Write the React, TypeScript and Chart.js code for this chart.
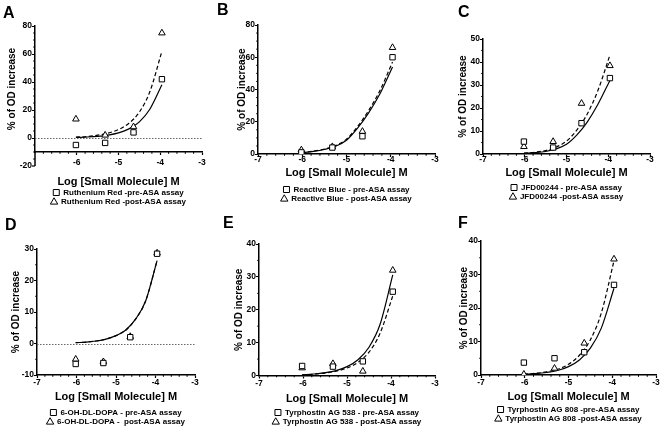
import React, { useEffect, useRef } from 'react';
import { Chart, registerables } from 'chart.js';

Chart.register(...registerables);
Chart.defaults.font.family = '"Liberation Sans", Arial, sans-serif';

// ---- data ----
const conc = [-6.02, -5.32, -4.64, -3.96];
const curveX = [-6.02, -5.75, -5.5, -5.25, -5.0, -4.75, -4.5, -4.25, -3.96];

const xTicksFull = [-7, -6, -5, -4, -3];
const xTicksA = [-6, -5, -4, -3];

const aYTicks = [0, 20, 40, 60, 80];
const aYExtraTick = -20;
const bYTicks = [0, 20, 40, 60, 80];
const cYTicks = [0, 10, 20, 30, 40, 50];
const dYTicks = [-10, 0, 10, 20, 30];
const eYTicks = [0, 10, 20, 30, 40];
const fYTicks = [0, 10, 20, 30, 40];

const aPre = [-5, -3.5, 4, 42];
const aPost = [13.5, 2, 8, 75];
const aFitSolid = [0.4, 0.7, 1.2, 2.1, 3.7, 6.5, 11.5, 20.5, 38];
const aFitDashed = [0.6, 1.1, 2.0, 3.5, 6.0, 10.5, 18.5, 33, 62];

const bPre = [1.0, 4.0, 11, 60];
const bPost = [2.5, 4.5, 14, 66];
const bFitSolid = [0.8, 1.6, 2.8, 4.8, 8.5, 16, 25.5, 37, 54];
const bFitDashed = [0.9, 1.8, 3.1, 5.2, 9.2, 17, 27, 39, 57];

const cPre = [5.4, 2.8, 13.4, 33];
const cPost = [3.2, 5.4, 22, 38.4];
const cFitSolid = [0.3, 0.6, 1.1, 2.2, 4.2, 8.3, 14, 21.5, 32];
const cFitDashed = [0.4, 0.8, 1.5, 3.0, 5.6, 10.5, 17.5, 27.5, 43];

const dPre = [-6.5, -6.2, 2, 28.5];
const dPost = [-5, -5.8, 2.2, 28.7];
const dFitSolid = [0.25, 0.45, 0.8, 1.4, 2.5, 4.3, 7.8, 13.5, 26.3];
const dFitDashed = [0.25, 0.45, 0.8, 1.4, 2.5, 4.3, 7.8, 13.5, 26.3];

const ePre = [2.9, 2.7, 4.3, 25.5];
const ePost = [2.3, 3.6, 1.3, 32];
const eFitSolid = [0.2, 0.45, 0.85, 1.5, 2.7, 4.8, 8.6, 15.5, 30.6];
const eFitDashed = [0.2, 0.4, 0.75, 1.3, 2.3, 4.0, 7.1, 12.8, 24.2];

const fPre = [3.7, 5, 6.8, 26.9];
const fPost = [0.2, 2, 9.5, 34.6];
const fFitSolid = [0.2, 0.4, 0.75, 1.35, 2.5, 4.5, 8.0, 14, 25.9];
const fFitDashed = [0.25, 0.5, 0.95, 1.7, 3.2, 5.9, 10.5, 18.5, 34.1];

type Panel = {
  letter: string;
  preLabel: string;
  postLabel: string;
  pre: number[];
  post: number[];
  fitSolid: number[];
  fitDashed: number[];
  yMin: number;
  yMax: number;
  yTicks: number[];
  yExt: number | null;
  xTicks: number[];
  zeroLine: boolean;
  // layout
  cx: number; cy: number; w: number; h: number;
  padTop: number; padRight: number;
  yAxisW: number; xAxisH: number;
  yTitlePad: number; xTickPad: number; xTitlePadB: number;
  letterX: number; letterBase: number;
};

const panels: Panel[] = [
  {
    letter: 'A', preLabel: 'Ruthenium Red -pre-ASA assay', postLabel: 'Ruthenium Red -post-ASA assay',
    pre: aPre, post: aPost, fitSolid: aFitSolid, fitDashed: aFitDashed,
    yMin: -10, yMax: 80, yTicks: aYTicks, yExt: aYExtraTick, xTicks: xTicksA, zeroLine: true,
    cx: 0, cy: 0, w: 220, h: 216, padTop: 26, padRight: 18, yAxisW: 35, xAxisH: 35,
    yTitlePad: 7, xTickPad: 3.75, xTitlePadB: 0, letterX: 3, letterBase: 18,
  },
  {
    letter: 'B', preLabel: 'Reactive Blue - pre-ASA assay', postLabel: 'Reactive Blue - post-ASA assay',
    pre: bPre, post: bPost, fitSolid: bFitSolid, fitDashed: bFitDashed,
    yMin: 0, yMax: 80, yTicks: bYTicks, yExt: null, xTicks: xTicksFull, zeroLine: false,
    cx: 220, cy: 0, w: 220, h: 213, padTop: 25, padRight: 3, yAxisW: 38, xAxisH: 30,
    yTitlePad: 17, xTickPad: -1.25, xTitlePadB: 5.5, letterX: 217, letterBase: 15,
  },
  {
    letter: 'C', preLabel: 'JFD00244 - pre-ASA assay', postLabel: 'JFD00244 -post-ASA assay',
    pre: cPre, post: cPost, fitSolid: cFitSolid, fitDashed: cFitDashed,
    yMin: 0, yMax: 50, yTicks: cYTicks, yExt: null, xTicks: xTicksFull, zeroLine: false,
    cx: 440, cy: 0, w: 222, h: 211, padTop: 39, padRight: 12, yAxisW: 43, xAxisH: 28,
    yTitlePad: 18, xTickPad: -1.25, xTitlePadB: 3.2, letterX: 458, letterBase: 17,
  },
  {
    letter: 'D', preLabel: '6-OH-DL-DOPA - pre-ASA assay', postLabel: '6-OH-DL-DOPA -  post-ASA assay',
    pre: dPre, post: dPost, fitSolid: dFitSolid, fitDashed: dFitDashed,
    yMin: -10, yMax: 30, yTicks: dYTicks, yExt: null, xTicks: xTicksFull, zeroLine: true,
    cx: 0, cy: 210, w: 220, h: 226, padTop: 39, padRight: 25, yAxisW: 37, xAxisH: 32,
    yTitlePad: 11, xTickPad: 0.75, xTitlePadB: 4.8, letterX: 5, letterBase: 230,
  },
  {
    letter: 'E', preLabel: 'Tyrphostin AG 538 - pre-ASA assay', postLabel: 'Tyrphostin AG 538 - post-ASA assay',
    pre: ePre, post: ePost, fitSolid: eFitSolid, fitDashed: eFitDashed,
    yMin: 0, yMax: 40, yTicks: eYTicks, yExt: null, xTicks: xTicksFull, zeroLine: false,
    cx: 220, cy: 210, w: 220, h: 226, padTop: 34, padRight: 3, yAxisW: 39, xAxisH: 31.5,
    yTitlePad: 14, xTickPad: 0.75, xTitlePadB: 2.7, letterX: 223, letterBase: 228,
  },
  {
    letter: 'F', preLabel: 'Tyrphostin AG 808 -pre-ASA assay', postLabel: 'Tyrphostin AG 808 -post-ASA assay',
    pre: fPre, post: fPost, fitSolid: fFitSolid, fitDashed: fFitDashed,
    yMin: 0, yMax: 40, yTicks: fYTicks, yExt: null, xTicks: xTicksFull, zeroLine: false,
    cx: 440, cy: 210, w: 222, h: 223, padTop: 31, padRight: 6, yAxisW: 41, xAxisH: 29,
    yTitlePad: 19, xTickPad: 0.75, xTitlePadB: 1.8, letterX: 458, letterBase: 228,
  },
];

const TICK_SIZE = 8.5;
const tickFont = { size: TICK_SIZE, weight: 'bold' as const, lineHeight: 1 };

const prismAxes = {
  id: 'prismAxes',
  beforeDatasetsDraw(chart: any, _args: any, opts: any) {
    const { ctx, chartArea } = chart;
    const y = chart.scales.y;
    if (opts.zeroLine) {
      const py = Math.round(y.getPixelForValue(0)) + 0.5;
      ctx.save();
      ctx.strokeStyle = '#666';
      ctx.lineWidth = 1;
      ctx.setLineDash([1.5, 1.5]);
      ctx.beginPath();
      ctx.moveTo(chartArea.left, py);
      ctx.lineTo(chartArea.right, py);
      ctx.stroke();
      ctx.restore();
    }
  },
  afterDraw(chart: any, _args: any, opts: any) {
    const { ctx, chartArea } = chart;
    const x = chart.scales.x;
    const y = chart.scales.y;
    ctx.save();
    ctx.strokeStyle = '#000';
    ctx.fillStyle = '#000';
    // extension of the y axis below the x axis (Prism style)
    if (opts.yExt !== null) {
      const pyExt = y.getPixelForValue(opts.yExt);
      ctx.lineWidth = 1.5;
      ctx.beginPath();
      ctx.moveTo(chartArea.left, chartArea.bottom);
      ctx.lineTo(chartArea.left, pyExt);
      ctx.stroke();
      ctx.lineWidth = 1.2;
      ctx.beginPath();
      ctx.moveTo(chartArea.left, pyExt);
      ctx.lineTo(chartArea.left - 3, pyExt);
      ctx.stroke();
      ctx.lineWidth = 1;
      const pm = y.getPixelForValue(opts.yExt + 5);
      ctx.beginPath();
      ctx.moveTo(chartArea.left, pm);
      ctx.lineTo(chartArea.left - 1.8, pm);
      ctx.stroke();
      ctx.font = `bold ${TICK_SIZE}px "Liberation Sans", Arial, sans-serif`;
      ctx.textAlign = 'right';
      ctx.textBaseline = 'middle';
      ctx.fillText(String(opts.yExt), chartArea.left - 3, pyExt);
    }
    const axisY = chartArea.bottom;
    // minor x ticks
    ctx.lineWidth = 1;
    for (let i = 1; i < 20; i++) {
      if (i % 5 === 0) continue;
      const px = x.getPixelForValue(x.min + i * 0.2);
      ctx.beginPath();
      ctx.moveTo(px, axisY);
      ctx.lineTo(px, axisY + 1.8);
      ctx.stroke();
    }
    // minor y ticks
    const step = opts.yTicks[1] - opts.yTicks[0];
    for (let v = y.min; v <= y.max + 1e-9; v += 5) {
      if (Math.abs(v % step) < 1e-9) continue;
      const py = y.getPixelForValue(v);
      ctx.beginPath();
      ctx.moveTo(chartArea.left, py);
      ctx.lineTo(chartArea.left - 1.8, py);
      ctx.stroke();
    }
    ctx.restore();
  },
};

function makeConfig(p: Panel): any {
  return {
    type: 'scatter',
    data: {
      datasets: [
        {
          label: p.preLabel,
          data: conc.map((x, i) => ({ x, y: p.pre[i] })),
          pointStyle: 'rect', pointRadius: 3.8, borderWidth: 1,
          borderColor: '#000', backgroundColor: '#fff', order: 0,
        },
        {
          label: p.postLabel,
          data: conc.map((x, i) => ({ x, y: p.post[i] })),
          pointStyle: 'triangle', pointRadius: 3.8, borderWidth: 1,
          borderColor: '#000', backgroundColor: '#fff', order: 0,
        },
        {
          type: 'line', label: '',
          data: curveX.map((x, i) => ({ x, y: p.fitSolid[i] })),
          borderColor: '#000', borderWidth: 1.2, pointRadius: 0, fill: false,
          cubicInterpolationMode: 'monotone', order: 1,
        },
        {
          type: 'line', label: '',
          data: curveX.map((x, i) => ({ x, y: p.fitDashed[i] })),
          borderColor: '#000', borderWidth: 1.2, pointRadius: 0, fill: false,
          borderDash: [4, 2.5], cubicInterpolationMode: 'monotone', order: 1,
        },
      ],
    },
    options: {
      animation: false,
      responsive: false,
      layout: { padding: { top: p.padTop, right: p.padRight, left: 0, bottom: 0 } },
      plugins: {
        tooltip: { enabled: false },
        legend: {
          display: true, position: 'bottom', fullSize: false, align: 'center',
          labels: {
            usePointStyle: true, boxHeight: 6, boxWidth: 6, padding: 1.5,
            font: { size: 8, weight: 'bold' }, color: '#000',
            filter: (item: any) => item.text !== '',
          },
        },
        prismAxes: { zeroLine: p.zeroLine, yExt: p.yExt, yTicks: p.yTicks },
      },
      scales: {
        x: {
          type: 'linear', min: -7, max: -3, position: 'bottom',
          afterBuildTicks: (s: any) => { s.ticks = p.xTicks.map((v) => ({ value: v })); },
          afterFit: (s: any) => { s.height = p.xAxisH; s.paddingLeft = 0; s.paddingRight = 0; },
          ticks: {
            font: tickFont, color: '#000', padding: p.xTickPad, maxRotation: 0, autoSkip: false,
            callback: (v: any) => String(v),
          },
          grid: { drawOnChartArea: false, tickLength: 3, tickColor: '#000', tickWidth: 1.2 },
          border: { color: '#000', width: 1.5 },
          title: {
            display: true, text: 'Log [Small Molecule] M', color: '#000',
            font: { size: 11, weight: 'bold', lineHeight: 1 },
            padding: { top: 0, bottom: p.xTitlePadB },
          },
        },
        y: {
          type: 'linear', min: p.yMin, max: p.yMax,
          afterBuildTicks: (s: any) => { s.ticks = p.yTicks.map((v) => ({ value: v })); },
          afterFit: (s: any) => { s.width = p.yAxisW; s.paddingTop = 0; s.paddingBottom = 0; },
          ticks: { font: tickFont, color: '#000', padding: 0 },
          grid: { drawOnChartArea: false, tickLength: 3, tickColor: '#000', tickWidth: 1.2 },
          border: { color: '#000', width: 1.5 },
          title: {
            display: true, text: '% of OD increase', color: '#000',
            font: { size: 10, weight: 'bold', lineHeight: 1 },
            padding: { top: p.yTitlePad, bottom: 0 },
          },
        },
      },
    },
    plugins: [prismAxes],
  };
}

function PanelChart({ p }: { p: Panel }) {
  const ref = useRef<HTMLCanvasElement | null>(null);
  useEffect(() => {
    if (!ref.current) return;
    const chart = new Chart(ref.current, makeConfig(p));
    return () => chart.destroy();
  }, [p]);
  return (
    <canvas
      ref={ref}
      width={p.w}
      height={p.h}
      style={{ position: 'absolute', left: p.cx, top: p.cy, width: p.w, height: p.h }}
    />
  );
}

export default function App() {
  return (
    <div
      style={{
        position: 'fixed', left: 0, top: 0, width: 662, height: 428,
        overflow: 'hidden', background: '#fff',
      }}
    >
      {panels.map((p) => (
        <PanelChart key={p.letter} p={p} />
      ))}
      {panels.map((p) => (
        <div
          key={'L' + p.letter}
          style={{
            position: 'absolute', left: p.letterX, top: p.letterBase - 13.5,
            fontFamily: '"Liberation Sans", Arial, sans-serif', fontWeight: 'bold',
            fontSize: 16, lineHeight: '16px', color: '#000',
          }}
        >
          {p.letter}
        </div>
      ))}
    </div>
  );
}
